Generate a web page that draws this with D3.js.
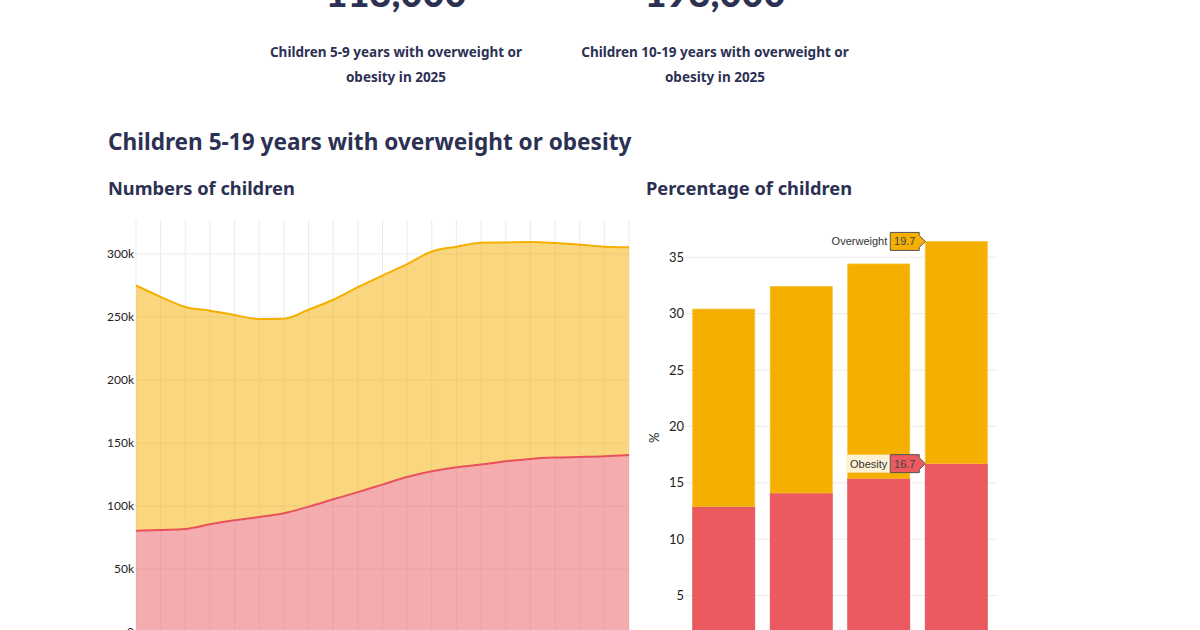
<!DOCTYPE html>
<html>
<head>
<meta charset="utf-8">
<script src="https://cdn.jsdelivr.net/npm/d3@7"></script>
<style>
  body { margin: 0; background: #fff; }
  svg { display: block; font-family: "Noto Sans", Lato, sans-serif; }
</style>
</head>
<body>
<svg id="chart" width="1200" height="630"></svg>
<script>
// headline figures
var headlineNumbers = ["113,000", "193,000"];
var headlineLines = [
  ["Children 5-9 years with overweight or", "obesity in 2025"],
  ["Children 10-19 years with overweight or", "obesity in 2025"]
];

// numbers of children, 2005-2025
var years = d3.range(2005, 2026);
var obesityCount = [80300, 81000, 81800, 85500, 88700, 91300, 94200, 99500, 105300, 111000, 117000,
  123000, 127600, 130800, 132900, 135500, 137400, 138400, 138900, 139500, 140500];
var overweightCount = [194700, 185000, 176200, 169500, 162900, 157100, 154500, 156300, 158400, 162700, 165900,
  169000, 174400, 175000, 176100, 173700, 172100, 170300, 168500, 166300, 164800];
var countTicks = [0, 50000, 100000, 150000, 200000, 250000, 300000];

// percentage of children
var barYears = ["2010", "2015", "2020", "2025"];
var obesityPct = [12.9, 14.1, 15.4, 16.7];
var overweightPct = [17.5, 18.3, 19.0, 19.7];
var pctTicks = [0, 5, 10, 15, 20, 25, 30, 35];

var navy = "#2c3153";
var yellow = "#f5af00";
var red = "#ea5a5f";

var svg = d3.select("#chart");

// ---- headline ----
var heads = [396, 715];
heads.forEach(function (cx, i) {
  svg.append("text").attr("x", cx).attr("y", 7).attr("text-anchor", "middle")
    .attr("font-size", 38).attr("font-weight", 900).attr("fill", navy)
    .attr("font-family", "Lato, sans-serif")
    .text(headlineNumbers[i]);
  headlineLines[i].forEach(function (t, j) {
    svg.append("text").attr("x", cx).attr("y", 57 + j * 25).attr("text-anchor", "middle")
      .attr("font-size", 13.5).attr("font-weight", 700).attr("fill", navy).text(t);
  });
});

svg.append("text").attr("x", 108).attr("y", 150).attr("font-size", 22.6).attr("font-weight", 700)
  .attr("fill", navy).text("Children 5-19 years with overweight or obesity");
svg.append("text").attr("x", 108).attr("y", 195).attr("font-size", 18.3).attr("font-weight", 700)
  .attr("fill", navy).text("Numbers of children");
svg.append("text").attr("x", 646).attr("y", 195).attr("font-size", 18.3).attr("font-weight", 700)
  .attr("fill", navy).text("Percentage of children");

// ---- area chart ----
var x = d3.scaleLinear().domain([2005, 2025]).range([136, 629]);
var y = d3.scaleLinear().domain([0, 327000]).range([632, 220]);

var left = svg.append("g");
left.selectAll(".vgrid").data(years).enter().append("line")
  .attr("x1", function (d) { return x(d); }).attr("x2", function (d) { return x(d); })
  .attr("y1", 220).attr("y2", 632).attr("stroke", "#ebebeb");
left.selectAll(".hgrid").data(countTicks).enter().append("line")
  .attr("x1", 136).attr("x2", 629)
  .attr("y1", function (d) { return y(d); }).attr("y2", function (d) { return y(d); })
  .attr("stroke", "#ebebeb");

var rows = years.map(function (yr, i) {
  return { year: yr, obesity: obesityCount[i], overweight: overweightCount[i] };
});
var stacked = d3.stack().keys(["obesity", "overweight"])(rows);
var colors = { obesity: red, overweight: yellow };

var area = d3.area().curve(d3.curveMonotoneX)
  .x(function (d) { return x(d.data.year); })
  .y0(function (d) { return y(d[0]); })
  .y1(function (d) { return y(d[1]); });
var line = d3.line().curve(d3.curveMonotoneX)
  .x(function (d) { return x(d.data.year); })
  .y(function (d) { return y(d[1]); });

stacked.forEach(function (s) {
  left.append("path").attr("d", area(s)).attr("fill", colors[s.key]).attr("fill-opacity", 0.5);
});
stacked.forEach(function (s) {
  left.append("path").attr("d", line(s)).attr("fill", "none")
    .attr("stroke", s.key == "obesity" ? "#e8525a" : yellow).attr("stroke-width", 2);
});

var yAxis = d3.axisLeft(y).tickValues(countTicks).tickSize(0).tickPadding(2)
  .tickFormat(function (d) { return d == 0 ? "0" : d / 1000 + "k"; });
left.append("g").attr("transform", "translate(136,0)").call(yAxis)
  .call(function (g) { g.select(".domain").remove(); })
  .selectAll("text").attr("font-size", 12).attr("fill", "#222").attr("font-family", "Lato, sans-serif");

// ---- bar chart ----
var xb = d3.scaleBand().domain(barYears).range([685, 995]).paddingInner(0.2).paddingOuter(0.1);
var yb = d3.scaleLinear().domain([0, 38.3]).range([652, 220]);

var right = svg.append("g");
right.selectAll(".hgrid").data(pctTicks.slice(1)).enter().append("line")
  .attr("x1", 685).attr("x2", 997)
  .attr("y1", function (d) { return yb(d); }).attr("y2", function (d) { return yb(d); })
  .attr("stroke", "#ebebeb");

var barRows = barYears.map(function (k, i) {
  return { year: k, obesity: obesityPct[i], overweight: overweightPct[i] };
});
var barStack = d3.stack().keys(["obesity", "overweight"])(barRows);
barStack.forEach(function (s) {
  right.selectAll(".bar-" + s.key).data(s).enter().append("rect")
    .attr("x", function (d) { return xb(d.data.year); })
    .attr("width", xb.bandwidth())
    .attr("y", function (d) { return yb(d[1]); })
    .attr("height", function (d) { return yb(d[0]) - yb(d[1]); })
    .attr("fill", colors[s.key])
    .attr("stroke", s.key == "obesity" ? "#e04a52" : "#f7c030").attr("stroke-width", 0.8);
});

var ybAxis = d3.axisLeft(yb).tickValues(pctTicks.slice(1)).tickSize(0).tickPadding(1);
right.append("g").attr("transform", "translate(685,0)").call(ybAxis)
  .call(function (g) { g.select(".domain").remove(); })
  .selectAll("text").attr("font-size", 13).attr("fill", "#222").attr("font-family", "Lato, sans-serif");

right.append("text").attr("transform", "translate(659," + yb(19) + ") rotate(-90)")
  .attr("text-anchor", "middle").attr("font-size", 13).attr("fill", "#222")
  .attr("font-family", "Lato, sans-serif").text("%");

// hover labels on the last bar
function hoverLabel(name, value, color, py, nameBg) {
  var px = xb(barYears[barYears.length - 1]);
  var g = right.append("g").attr("transform", "translate(" + px + "," + py + ")");
  if (nameBg) {
    g.append("rect").attr("x", -79).attr("y", -9).attr("width", 45).attr("height", 18).attr("fill", nameBg);
  }
  g.append("path")
    .attr("d", "M0,0 L-6,-6 L-6,-9 L-35,-9 L-35,9 L-6,9 L-6,6 Z")
    .attr("fill", color).attr("stroke", "#555").attr("stroke-width", 1);
  g.append("text").attr("x", -20.5).attr("y", 4).attr("text-anchor", "middle")
    .attr("font-size", 11).attr("font-family", "Arial, 'Liberation Sans', sans-serif")
    .attr("fill", "#444").text(value.toFixed(1));
  g.append("text").attr("x", -38).attr("y", 4).attr("text-anchor", "end")
    .attr("font-size", 11).attr("font-family", "Arial, 'Liberation Sans', sans-serif")
    .attr("fill", "#333").text(name);
}
var last = barYears.length - 1;
hoverLabel("Overweight", overweightPct[last], yellow, yb(obesityPct[last] + overweightPct[last]), null);
hoverLabel("Obesity", obesityPct[last], red, yb(obesityPct[last]), "#fdf1d4");
</script>
</body>
</html>
